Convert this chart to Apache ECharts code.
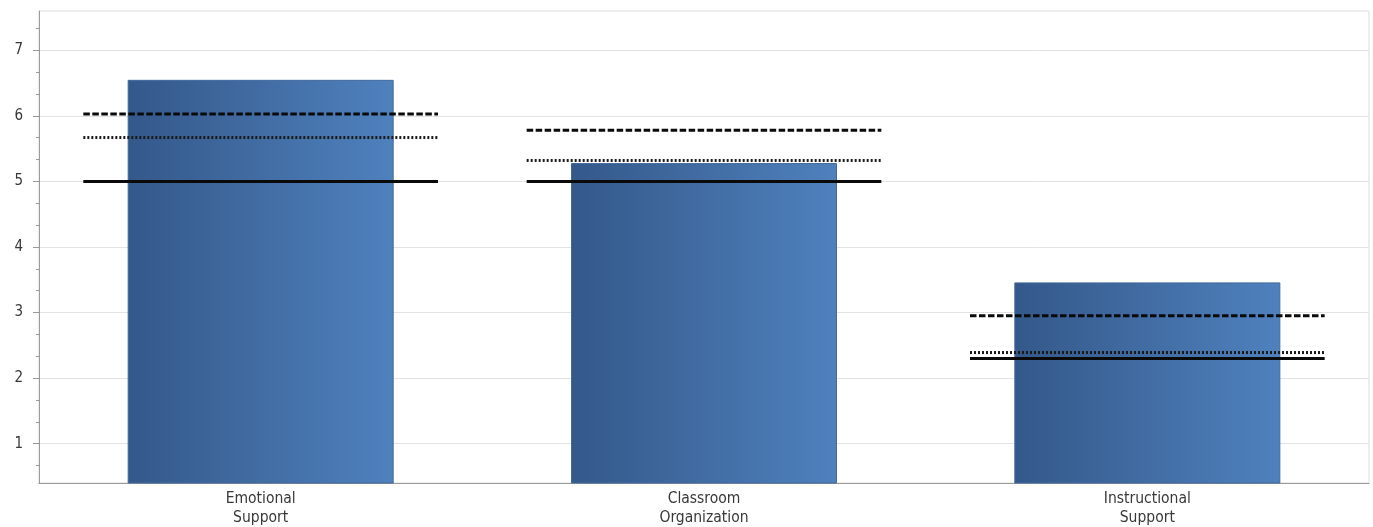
<!DOCTYPE html>
<html>
<head>
<meta charset="utf-8">
<script src="https://cdn.jsdelivr.net/npm/echarts@6/dist/echarts.min.js"></script>
<style>
html,body{margin:0;padding:0;background:#fff;}
#chart{width:1373px;height:527px;}
</style>
</head>
<body>
<div id="chart"></div>
<script>
const categories = ['Emotional\nSupport', 'Classroom\nOrganization', 'Instructional\nSupport'];
const barValues = [6.55, 5.28, 3.46];
const dashedValues = [6.03, 5.78, 2.95];
const dottedValues = [5.67, 5.32, 2.39];
const solidValues = [5.00, 5.00, 2.30];
const yTickLabels = [1, 2, 3, 4, 5, 6, 7];
const yMin = 0.4, yMax = 7.6;

const minorTicks = [];
for (let k = 1; k * (1/3) <= yMax; k++) {
  const v = k / 3;
  if (v > yMin && k % 3 !== 0) minorTicks.push(v);
}

function lineSeries(name, values, style) {
  return {
    name: name,
    type: 'custom',
    z: 5,
    data: values.map((v, i) => [i, v]),
    renderItem: function (params, api) {
      const c = api.coord([api.value(0), api.value(1)]);
      const w = api.size([1, 0])[0] * 0.8;
      return {
        type: 'line',
        shape: { x1: c[0] - w / 2, y1: c[1], x2: c[0] + w / 2, y2: c[1] },
        style: Object.assign({ stroke: '#000', fill: null }, style)
      };
    }
  };
}

const FONT = '"DejaVu Sans Condensed", "DejaVu Sans", sans-serif';
const chart = echarts.init(document.getElementById('chart'));
chart.setOption({
  animation: false,
  grid: { left: 39, top: 11, right: 4, bottom: 44, show: true, borderColor: '#dcdcdc', borderWidth: 1 },
  xAxis: {
    type: 'category',
    data: categories,
    axisLine: { lineStyle: { color: '#9a9a9a' } },
    axisTick: { show: false },
    axisLabel: { color: '#383838', fontFamily: FONT, fontSize: 15.5, lineHeight: 19, margin: 6 },
    splitLine: { show: false }
  },
  yAxis: [{
    type: 'value',
    min: yMin,
    max: yMax,
    position: 'left',
    axisLine: { show: true, lineStyle: { color: '#9a9a9a' } },
    axisTick: { show: true, length: 6, customValues: yTickLabels, lineStyle: { color: '#9a9a9a' } },
    axisLabel: { customValues: yTickLabels, color: '#383838', fontFamily: FONT, fontSize: 15, margin: 16 },
    splitLine: { show: true, lineStyle: { color: '#e2e2e2', width: 1 } }
  }, {
    type: 'value',
    min: yMin,
    max: yMax,
    position: 'left',
    offset: 0,
    axisLine: { show: false },
    axisTick: { show: true, length: 3, customValues: minorTicks, lineStyle: { color: '#9a9a9a' } },
    axisLabel: { show: false },
    splitLine: { show: false }
  }],
  series: [{
    type: 'bar',
    data: barValues,
    barWidth: '60%',
    z: 2,
    itemStyle: {
      color: new echarts.graphic.LinearGradient(0, 0, 1, 0, [
        { offset: 0, color: '#34588a' },
        { offset: 1, color: '#4f81bd' }
      ]),
      borderColor: '#41699e',
      borderWidth: 1
    }
  },
  lineSeries('solid', solidValues, { lineWidth: 3, stroke: '#0a0a0a' }),
  lineSeries('dashed', dashedValues, { lineWidth: 3, lineDash: [6.5, 2.5], stroke: '#0a0a0a' }),
  lineSeries('dotted', dottedValues, { lineWidth: 3, lineDash: [2, 2], stroke: '#1a1a1a' })
  ]
});
</script>
</body>
</html>
